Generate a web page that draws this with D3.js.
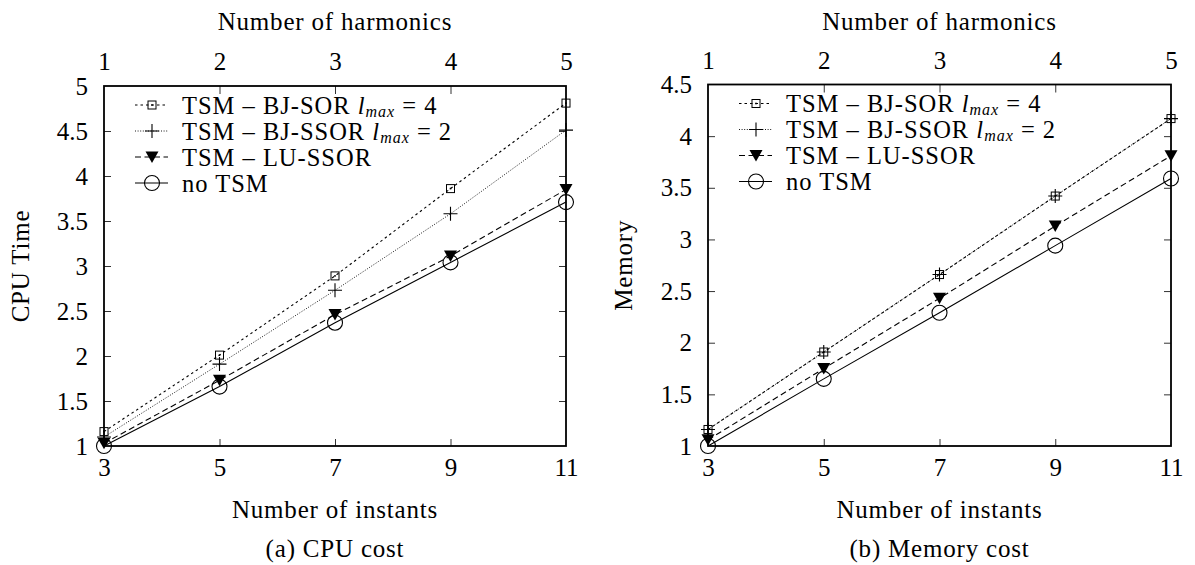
<!DOCTYPE html>
<html>
<head>
<meta charset="utf-8">
<script src="https://cdn.jsdelivr.net/npm/d3@7"></script>
<style>
  body { margin: 0; background: #fff; }
  svg { display: block; font-family: 'Liberation Serif', 'Times New Roman', serif; }
  .tick line { stroke: #333; stroke-width: 1; }
  .label { letter-spacing: 0.8px; }
  .legend text { letter-spacing: 1px; }
</style>
</head>
<body>
<div id="chart"></div>
<script>
// x values (number of instants) and top axis (number of harmonics)
const instants = [3, 5, 7, 9, 11];
const harmonics = [1, 2, 3, 4, 5];

// CPU cost panel
const cpuBjSor = [1.16, 2.01, 2.89, 3.86, 4.81];
const cpuBjSsor = [1.10, 1.91, 2.73, 3.58, 4.51];
const cpuLuSsor = [1.03, 1.73, 2.46, 3.11, 3.85];
const cpuNoTsm = [1.00, 1.66, 2.37, 3.04, 3.71];
const cpuTicks = [1, 1.5, 2, 2.5, 3, 3.5, 4, 4.5, 5];

// Memory cost panel
const memBjSor = [1.16, 1.91, 2.66, 3.42, 4.17];
const memBjSsor = [1.16, 1.91, 2.66, 3.42, 4.17];
const memLuSsor = [1.06, 1.75, 2.43, 3.13, 3.81];
const memNoTsm = [1.00, 1.65, 2.29, 2.94, 3.59];
const memTicks = [1, 1.5, 2, 2.5, 3, 3.5, 4, 4.5];

const seriesNames = ['TSM \u2013 BJ-SOR ', 'TSM \u2013 BJ-SSOR ', 'TSM \u2013 LU-SSOR', 'no TSM'];
const seriesLmax = ['4', '2', null, null];

const SERIF = "'Liberation Serif', 'Times New Roman', serif";
const W = 1195;
const H = 565;

const svg = d3.select('#chart').append('svg')
    .attr('width', W)
    .attr('height', H);

// line dash per series: fine dashes, dots, dashes, solid
const dashes = ['2.5,3', '1,1.6', '6,3.5', null];

function marker(g, type, x, y) {
  if (type === 0) {
    g.append('rect')
        .attr('x', x - 4).attr('y', y - 4)
        .attr('width', 8).attr('height', 8)
        .attr('fill', 'none').attr('stroke', '#000').attr('stroke-width', 1);
    g.append('rect')
        .attr('x', x - 0.8).attr('y', y - 0.8)
        .attr('width', 1.6).attr('height', 1.6)
        .attr('fill', '#000');
  } else if (type === 1) {
    g.append('path')
        .attr('d', `M${x - 7},${y}H${x + 7}M${x},${y - 7}V${y + 7}`)
        .attr('stroke', '#000').attr('stroke-width', 1.1).attr('fill', 'none');
  } else if (type === 2) {
    g.append('path')
        .attr('d', `M${x - 6.5},${y - 5.5}L${x + 6.5},${y - 5.5}L${x},${y + 6}Z`)
        .attr('fill', '#000');
  } else {
    g.append('circle')
        .attr('cx', x).attr('cy', y).attr('r', 7.5)
        .attr('fill', 'none').attr('stroke', '#000').attr('stroke-width', 1.1);
  }
}

function drawPanel(opts) {
  const { left, top, right, bottom, series, ticks, yMax, yLabel, yLabelX, caption } = opts;
  const w = right - left;
  const h = bottom - top;
  const g = svg.append('g').attr('transform', `translate(${left},${top})`);

  const x = d3.scaleLinear().domain([3, 11]).range([0, w]);
  const x2 = d3.scaleLinear().domain([1, 5]).range([0, w]);
  const y = d3.scaleLinear().domain([1, yMax]).range([h, 0]);

  // axes with inward ticks
  const ax = [
    g.append('g').attr('transform', `translate(0,${h})`)
      .call(d3.axisBottom(x).tickValues(instants).tickFormat(d3.format('d')).tickSizeInner(-7).tickSizeOuter(0).tickPadding(12)),
    g.append('g')
      .call(d3.axisTop(x2).tickValues(harmonics).tickFormat(d3.format('d')).tickSizeInner(-8).tickSizeOuter(0).tickPadding(16)),
    g.append('g')
      .call(d3.axisLeft(y).tickValues(ticks).tickFormat(d3.format('~g')).tickSizeInner(-7).tickSizeOuter(0).tickPadding(16)),
    g.append('g').attr('transform', `translate(${w},0)`)
      .call(d3.axisRight(y).tickValues(ticks).tickFormat('').tickSizeInner(-7).tickSizeOuter(0))
  ];
  ax.forEach(a => a.attr('font-family', null).select('.domain').remove());
  ax.forEach(a => a.selectAll('.tick text')
      .style('font-family', SERIF)
      .style('font-size', '25px')
      .style('fill', '#000'));
  // the first/last ticks sit on the frame
  ax.forEach(a => a.selectAll('.tick line').filter((d, i, n) => i === 0 || i === n.length - 1).remove());

  // lines
  const line = d3.line()
      .x((d, i) => x(instants[i]))
      .y(d => y(d));
  series.forEach((s, k) => {
    g.append('path')
        .datum(s)
        .attr('d', line)
        .attr('fill', 'none')
        .attr('stroke', '#000')
        .attr('stroke-width', k === 1 ? 0.9 : 1.1)
        .attr('stroke-dasharray', dashes[k]);
  });
  series.forEach((s, k) => {
    s.forEach((v, i) => marker(g, k, x(instants[i]), y(v)));
  });

  // legend
  const lg = g.append('g').attr('class', 'legend');
  seriesNames.forEach((name, k) => {
    const ly = 19 + k * 26;
    lg.append('line')
        .attr('x1', 31).attr('x2', 64)
        .attr('y1', ly).attr('y2', ly)
        .attr('stroke', '#000')
        .attr('stroke-width', k === 1 ? 0.9 : 1.1)
        .attr('stroke-dasharray', dashes[k]);
    marker(lg, k, 48, ly);
    const t = lg.append('text')
        .attr('x', 78).attr('y', ly)
        .attr('dy', '0.35em')
        .attr('font-size', 24.5)
        .text(name);
    if (seriesLmax[k]) {
      t.append('tspan').attr('font-style', 'italic').text('l');
      t.append('tspan').attr('font-style', 'italic').attr('font-size', 16).attr('dy', 3).text('max');
      t.append('tspan').attr('dy', -3).text(' = ' + seriesLmax[k]);
    }
  });

  // frame
  g.append('rect')
      .attr('width', w).attr('height', h)
      .attr('fill', 'none').attr('stroke', '#000').attr('stroke-width', 1.8);

  // titles
  const title = (tx, ty, str) => svg.append('text')
      .attr('class', 'label')
      .attr('x', tx).attr('y', ty).attr('dy', '0.35em')
      .attr('text-anchor', 'middle').attr('font-size', 25)
      .text(str);
  title(left + w / 2, 21, 'Number of harmonics');
  title(left + w / 2, 509, 'Number of instants');
  title(left + w / 2, 548, caption);
  svg.append('text')
      .attr('class', 'label')
      .attr('transform', `translate(${yLabelX},${top + h / 2}) rotate(-90)`)
      .attr('dy', '0.35em')
      .attr('text-anchor', 'middle').attr('font-size', 25)
      .text(yLabel);
}

drawPanel({
  left: 104, top: 86, right: 566, bottom: 446,
  series: [cpuBjSor, cpuBjSsor, cpuLuSsor, cpuNoTsm],
  ticks: cpuTicks, yMax: 5,
  yLabel: 'CPU Time', yLabelX: 20,
  caption: '(a) CPU cost'
});

drawPanel({
  left: 708, top: 84.5, right: 1171, bottom: 446,
  series: [memBjSor, memBjSsor, memLuSsor, memNoTsm],
  ticks: memTicks, yMax: 4.5,
  yLabel: 'Memory', yLabelX: 623,
  caption: '(b) Memory cost'
});
</script>
</body>
</html>
